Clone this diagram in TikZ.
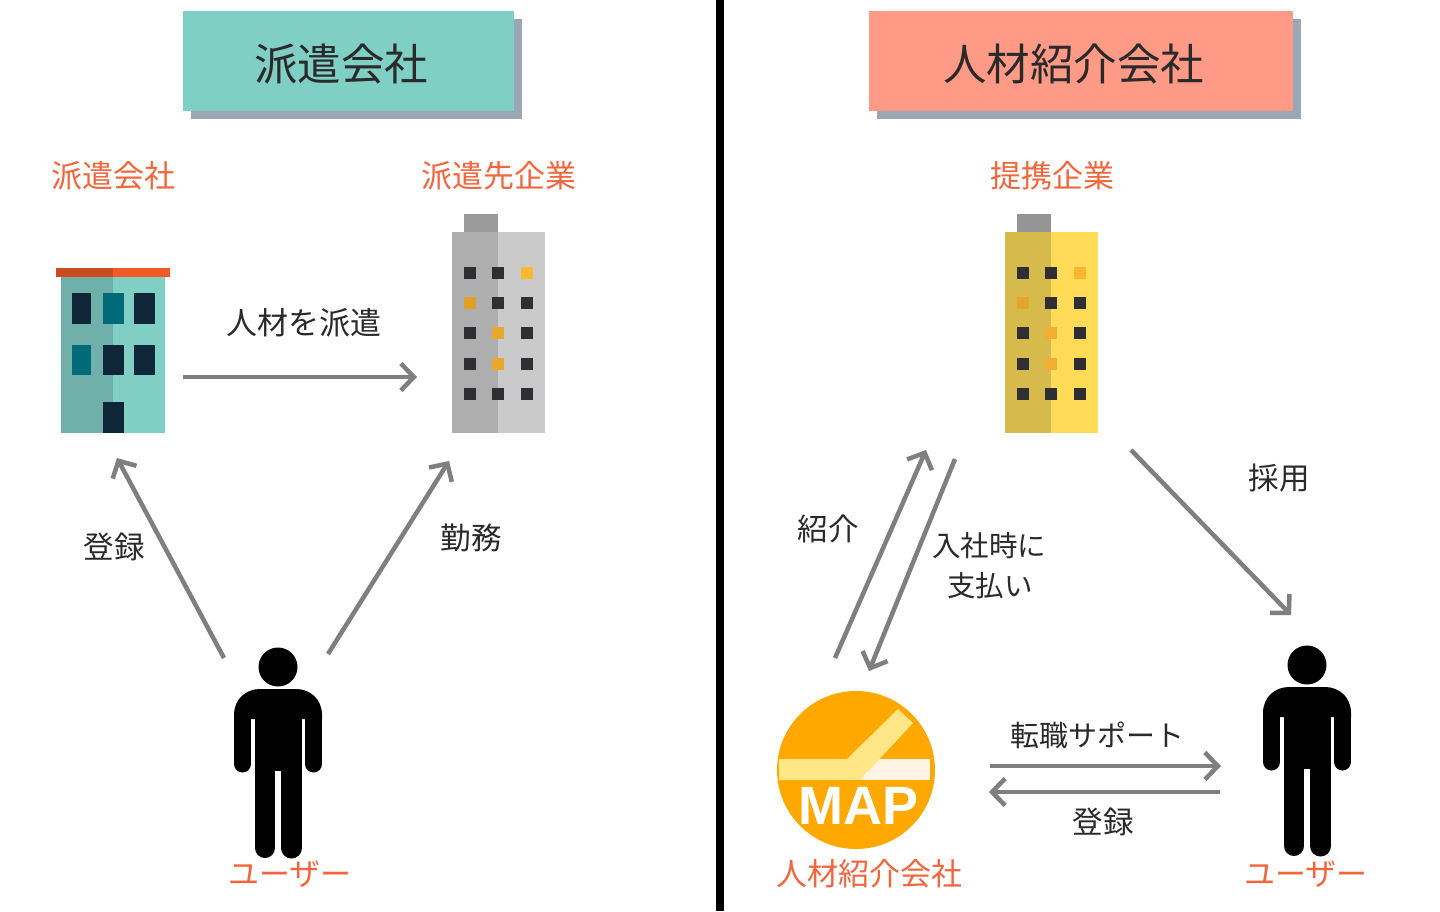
\documentclass[tikz,border=0pt]{standalone}
\usepackage{fontspec}
\usetikzlibrary{arrows.meta,shadows}
\setmainfont{Noto Sans CJK JP}
\newfontfamily\logofont{Liberation Sans}
\definecolor{ink}{HTML}{2A2A2A}
\definecolor{accent}{HTML}{F1663C}
\definecolor{arrowgray}{HTML}{7F7F7F}
\definecolor{shadowgray}{HTML}{9AA7B5}
\definecolor{tealbox}{HTML}{80CFC5}
\definecolor{salmonbox}{HTML}{FF9A86}
\definecolor{windark}{HTML}{2F2F33}
\definecolor{navy}{HTML}{0F2638}
\definecolor{petrol}{HTML}{006A78}
\definecolor{tealdark}{HTML}{6FB0AA}
\definecolor{roofbright}{HTML}{F15A24}
\definecolor{roofdark}{HTML}{CB4B20}
\definecolor{greyL}{HTML}{AEAEAE}
\definecolor{greyR}{HTML}{CACACA}
\definecolor{greyT}{HTML}{9A9C9A}
\definecolor{yelL}{HTML}{D6BA4C}
\definecolor{yelR}{HTML}{FFDB58}
\definecolor{yelT}{HTML}{959595}
\definecolor{litA}{HTML}{FDB92E}
\definecolor{litB}{HTML}{E0A028}
\definecolor{litC}{HTML}{E8A82C}
\definecolor{litD}{HTML}{FFB52E}
\definecolor{litE}{HTML}{E5A42B}
\definecolor{litF}{HTML}{F2AE33}
\definecolor{logoorange}{HTML}{FFA800}
\definecolor{logoyellow}{HTML}{FFE788}
\definecolor{logocream}{HTML}{FFF4E4}
\newcommand{\fs}[1]{\fontsize{#1}{#1}\selectfont}
\newcommand{\towerfig}[5]{%
  \begin{scope}[shift={(#1,#2)}]
    \fill[#3] (0,0) rectangle (46,201);
    \fill[#4] (46,0) rectangle (93,201);
    \fill[#5] (12,-18) rectangle (46,0);
    \foreach \cx in {12,40,69} \foreach \cy in {34.7,65,95,125.5,156}
      \fill[windark] (\cx,\cy) rectangle ++(12,12);
  \end{scope}}
\tikzset{
  titlebox/.style={minimum height=100pt,inner sep=0pt,
    general shadow={fill=shadowgray,shadow xshift=8pt,shadow yshift=-8pt}},
  titletext/.style={inner sep=0pt,text=ink,font=\fs{43.5}},
  redlabel/.style={text=accent,font=\fs{31},inner sep=0pt},
  blacklabel/.style={text=ink,font=\fs{30.5},inner sep=0pt},
  flow/.style={draw=arrowgray,line width=4.5pt,-{Straight Barb[length=13pt,width=27pt,line width=4.5pt]}},
  person/.pic={
    \fill[black] (0,0) circle (19.5);
    \fill[black] (-44,52) -- (-44,48) .. controls (-44,32) and (-32,22) .. (-18,22) -- (18,22)
       .. controls (32,22) and (44,32) .. (44,48) -- (44,52) -- cycle;
    \draw[black,line width=17pt,line cap=round] (-35.5,52) -- (-35.5,97);
    \draw[black,line width=17pt,line cap=round] (35.5,52) -- (35.5,97);
    \fill[black] (-23,30) rectangle (24,104);
    \draw[black,line width=20pt,line cap=round] (-13,100) -- (-13,181);
    \draw[black,line width=21pt,line cap=round] (13.5,100) -- (13.5,181);
  },
}
\begin{document}
\begin{tikzpicture}[x=1pt,y=-1pt]
\useasboundingbox (0,0) rectangle (1440,911);
\fill[white] (0,0) rectangle (1440,911);
% divider
\fill[black] (716,0) rectangle (724,911);
% title boxes
\node[titlebox,fill=tealbox,minimum width=331pt] (titleL) at (348.5,61) {};
\node[titlebox,fill=salmonbox,minimum width=424pt] (titleR) at (1081,61) {};
\node[titletext] (titleLtext) at (341,64) {派遣会社};
\node[titletext] (titleRtext) at (1073.5,64) {人材紹介会社};
% teal building
\fill[tealbox] (113,277) rectangle (165,433);
\fill[tealdark] (61,277) rectangle (113,433);
\fill[roofbright] (113,267.5) rectangle (170,277);
\fill[roofdark] (56,267.5) rectangle (113,277);
\fill[navy] (72,293) rectangle (91,323.5);
\fill[navy] (134,293) rectangle (155,323.5);
\fill[petrol] (103,293) rectangle (124,323.5);
\fill[petrol] (72,345) rectangle (91,375);
\fill[navy] (103,345) rectangle (124,375);
\fill[navy] (134,345) rectangle (155,375);
\fill[navy] (103,402) rectangle (124,433);
% grey building
\towerfig{452}{232}{greyL}{greyR}{greyT}
\fill[litA] (521,266.7) rectangle ++(12,12);
\fill[litB] (464,297) rectangle ++(12,12);
\fill[litC] (492,327) rectangle ++(12,12);
\fill[litC] (492,357.5) rectangle ++(12,12);
% yellow building
\towerfig{1005}{232}{yelL}{yelR}{yelT}
\fill[litD] (1074,266.7) rectangle ++(12,12);
\fill[litE] (1017,297) rectangle ++(12,12);
\fill[litF] (1045,327) rectangle ++(12,12);
\fill[litF] (1045,357.5) rectangle ++(12,12);
% persons
\pic at (278,667) {person};
\pic at (1307,665) {person};
% logo
\fill[logoorange] (856,770) circle (79);
\fill[logocream] (779,759) rectangle (930,780);
\fill[logoyellow] (779,759) -- (847,759) -- (898,709) -- (913,723) -- (860,780) -- (779,780) -- cycle;
\node[text=white,inner sep=0pt,font=\logofont\bfseries\fs{54}] (maptext) at (858.5,805.5) {MAP};
% labels
\node[redlabel] (lblA) at (113,176) {派遣会社};
\node[redlabel] (lblB) at (499,176) {派遣先企業};
\node[redlabel] (lblC) at (1052,176) {提携企業};
\node[redlabel] (lblD) at (290,874) {ユーザー};
\node[redlabel] (lblE) at (869,874) {人材紹介会社};
\node[redlabel] (lblF) at (1306,874) {ユーザー};
\node[blacklabel,font=\fs{31}] (t1) at (304,323) {人材を派遣};
\node[blacklabel] (t2) at (114,547) {登録};
\node[blacklabel] (t3) at (471,538) {勤務};
\node[blacklabel] (t4) at (828,529) {紹介};
\node[blacklabel,font=\fs{28.5}] (t5) at (989,546) {入社時に};
\node[blacklabel,font=\fs{28.5}] (t6) at (990,586) {支払い};
\node[blacklabel] (t7) at (1279,478) {採用};
\node[blacklabel,font=\fs{29}] (t8) at (1097,735) {転職サポート};
\node[blacklabel] (t9) at (1103,822) {登録};
% connector ends
\coordinate (a1) at (183,377); \coordinate (a2) at (417,377);
\coordinate (b1) at (224,658); \coordinate (b2) at (117,458);
\coordinate (c1) at (328,654); \coordinate (c2) at (449,461);
\coordinate (d1) at (835,658); \coordinate (d2) at (926,450);
\coordinate (e1) at (955,459); \coordinate (e2) at (869,671);
\coordinate (f1) at (1131,450); \coordinate (f2) at (1291,615);
\coordinate (g1) at (990,766); \coordinate (g2) at (1221,766);
\coordinate (h1) at (1220,792); \coordinate (h2) at (989,792);
\draw[flow] (a1) -- (a2);
\draw[flow] (b1) -- (b2);
\draw[flow] (c1) -- (c2);
\draw[flow] (d1) -- (d2);
\draw[flow] (e1) -- (e2);
\draw[flow] (f1) -- (f2);
\draw[flow] (g1) -- (g2);
\draw[flow] (h1) -- (h2);
\end{tikzpicture}
\end{document}
